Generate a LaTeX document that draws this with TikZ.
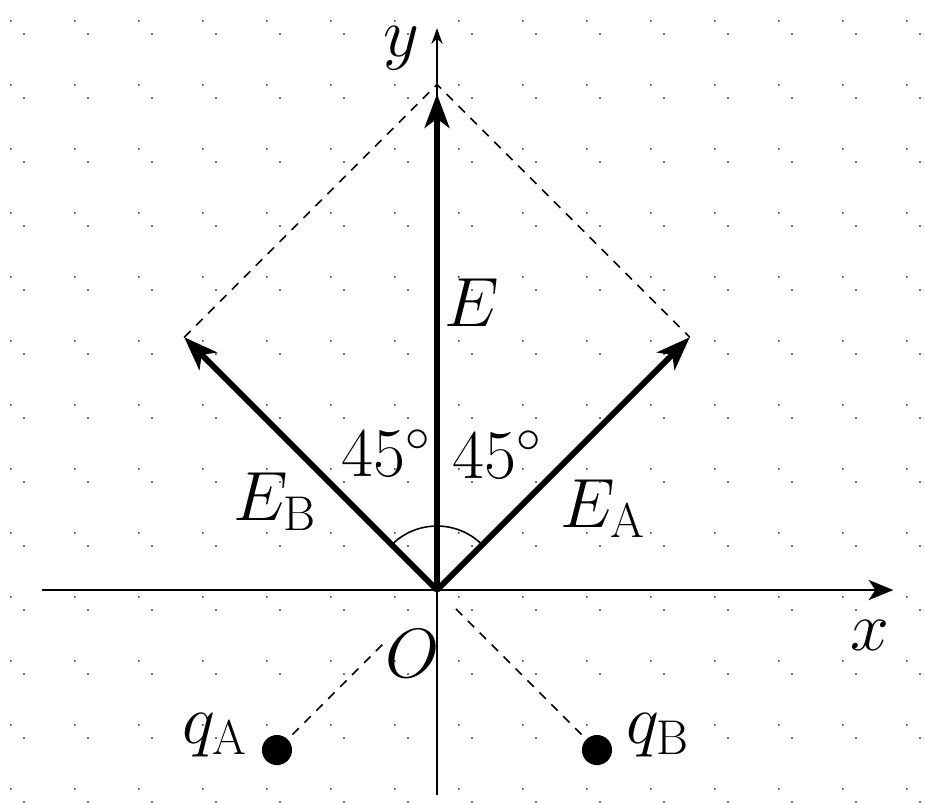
\RequirePackage{fix-cm}
\documentclass[tikz,border=0pt]{standalone}
\usetikzlibrary{arrows.meta}
\begin{document}
\begin{tikzpicture}[
  axis/.style={line width=0.8pt,-{Stealth[length=7pt,width=5pt]}},
  xaxis/.style={line width=0.8pt,-{Stealth[length=11pt,width=9pt,inset=3pt]}},
  vec/.style={line width=2.6pt,-{Stealth[length=15pt,width=11pt,inset=4pt]}},
  guide/.style={line width=0.7pt,dash pattern=on 4pt off 3.5pt},
  lbl/.style={font=\fontsize{31}{36}\selectfont, inner sep=0pt, anchor=base},
  charge/.style={circle,fill=black,minimum size=0.47cm,inner sep=0pt},
  griddot/.style={fill=black!75}
]
\useasboundingbox (-6.828,-3.344) rectangle (7.625,9.219);
\fill[white] (-6.828,-3.344) rectangle (7.625,9.219);
% dotted grids
\foreach \i in {-7,...,7}
  \foreach \j in {-4,...,8}
    \fill[griddot] (0.339+\i,0.891+\j) circle (0.018);
\foreach \i in {-7,...,7}
  \foreach \j in {-4,...,8}
    \fill[griddot] (0.547+\i,0.6875+\j) circle (0.018);
% points
\coordinate (O) at (0,0);
\coordinate (xs) at (-6.17,0);
\coordinate (xe) at (7.13,0);
\coordinate (ys) at (0,-3.2);
\coordinate (ye) at (0,8.78);
\coordinate (A) at (3.95,3.95);
\coordinate (B) at (-3.95,3.95);
\coordinate (T) at (0,7.9);
\coordinate (Et) at (0,7.75);
\node[charge] (qA) at (-2.5,-2.5) {};
\node[charge] (qB) at (2.5,-2.5) {};
% axes
\draw[xaxis] (xs) -- (xe);
\draw[axis] (ys) -- (ye);
% dashed guides
\draw[guide] (B) -- (T) -- (A);
\draw[guide, shorten <=0.1cm, shorten >=1.2cm] (qA) -- (O);
\draw[guide, shorten <=0.1cm, shorten >=0.4cm] (qB) -- (O);
% angle arc
\draw[line width=0.7pt] (O) ++(45:1cm) arc[start angle=45,end angle=135,radius=1cm];
% vectors
\draw[vec] (O) -- (Et);
\draw[vec] (O) -- (A);
\draw[vec] (O) -- (B);
% labels
\node[lbl] (ly) at (-0.56,8.34) {$y$};
\node[lbl] (lx) at (6.77,-0.94) {$x$};
\node[lbl] (lO) at (-0.38,-1.36) {$O$};
\node[lbl] (lE) at (0.55,4.11) {$E$};
\node[lbl] (lEB) at (-2.53,1.09) {$E_{\mathrm{B}}$};
\node[lbl] (lEA) at (2.59,0.98) {$E_{\mathrm{A}}$};
\node[lbl] (a1) at (-0.79,1.77) {$45^\circ$};
\node[lbl] (a2) at (0.945,1.75) {$45^\circ$};
\node[lbl] (lqA) at (-3.47,-2.4) {$q_{\mathrm{A}}$};
\node[lbl] (lqB) at (3.45,-2.4) {$q_{\mathrm{B}}$};
\end{tikzpicture}
\end{document}
